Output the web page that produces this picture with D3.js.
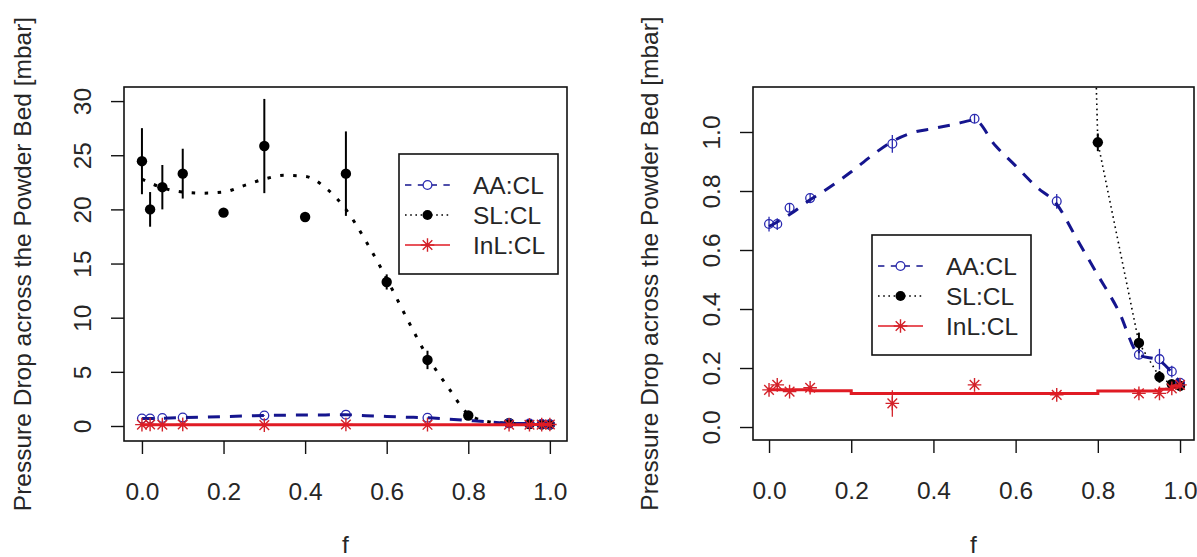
<!DOCTYPE html>
<html>
<head>
<meta charset="utf-8">
<script src="https://cdn.jsdelivr.net/npm/d3@7"></script>
<style>
  body { margin: 0; background: #fff; }
  svg { display: block; font-family: "Liberation Sans", Arial, Helvetica, sans-serif; }
</style>
</head>
<body>
<svg id="chart" width="1197" height="557"></svg>
<script>
// ---- data -------------------------------------------------------------
const seriesNames = ["AA:CL", "SL:CL", "InL:CL"];

// AA:CL measurements (mean and error half-width)
const fAA = [0, 0.02, 0.05, 0.1, 0.3, 0.5, 0.7, 0.9, 0.95, 0.98, 1.0];
const aaMean = [0.688, 0.688, 0.743, 0.776, 0.96, 1.045, 0.765, 0.245, 0.23, 0.188, 0.15];
const aaErr = [0.025, 0.02, 0.015, 0.015, 0.03, 0.015, 0.025, 0.015, 0.035, 0.02, 0.015];

// SL:CL measurements
const fSL = [0, 0.02, 0.05, 0.1, 0.2, 0.3, 0.4, 0.5, 0.6, 0.7, 0.8, 0.9, 0.95, 0.98, 1.0];
const slMean = [24.45, 20.0, 22.05, 23.3, 19.7, 25.85, 19.3, 23.3, 13.3, 6.1, 0.965, 0.285, 0.17, 0.145, 0.14];
const slErr = [3.05, 1.6, 2.05, 2.3, 0.3, 4.35, 0.3, 3.9, 0.7, 0.85, 0.03, 0.035, 0.02, 0.01, 0.01];

// InL:CL measurements
const fInL = [0, 0.02, 0.05, 0.1, 0.3, 0.5, 0.7, 0.9, 0.95, 0.98, 1.0];
const inlMean = [0.126, 0.143, 0.12, 0.133, 0.08, 0.143, 0.109, 0.114, 0.114, 0.131, 0.143];
const inlErr = [0.008, 0.008, 0.008, 0.008, 0.045, 0.008, 0.008, 0.008, 0.008, 0.008, 0.008];

// smoothed trend curves
const fitF = [0, 0.05, 0.1, 0.15, 0.2, 0.25, 0.3, 0.35, 0.4, 0.45, 0.5, 0.55, 0.6, 0.65, 0.7, 0.75, 0.8, 0.85, 0.9, 0.95, 0.98, 1.0];
const aaFit = [0.68, 0.72, 0.77, 0.815, 0.865, 0.92, 0.968, 0.998, 1.012, 1.026, 1.04, 0.955, 0.885, 0.815, 0.755, 0.635, 0.515, 0.395, 0.245, 0.225, 0.185, 0.15];
const slFit = [22.8, 22.0, 21.6, 21.5, 21.6, 22.2, 22.8, 23.15, 23.05, 22.0, 20.0, 17.0, 13.6, 9.9, 6.4, 3.6, 1.1, 0.4, 0.25, 0.17, 0.145, 0.14];
const inlFitF = [0, 0.1, 0.2, 0.8, 0.95, 0.98, 1.0];
const inlFit = [0.126, 0.123, 0.114, 0.122, 0.128, 0.138, 0.143];

// axis ticks
const xTicks = [0, 0.2, 0.4, 0.6, 0.8, 1.0];
const xTickLabels = ["0.0", "0.2", "0.4", "0.6", "0.8", "1.0"];
const yTicksLeft = [0, 5, 10, 15, 20, 25, 30];
const yTickLabelsLeft = ["0", "5", "10", "15", "20", "25", "30"];
const yTicksRight = [0, 0.2, 0.4, 0.6, 0.8, 1.0];
const yTickLabelsRight = ["0.0", "0.2", "0.4", "0.6", "0.8", "1.0"];

const xTitle = "f";
const yTitle = "Pressure Drop across the Powder Bed [mbar]";

// ---- styles -----------------------------------------------------------
const BLUE_LINE = "#15158e";
const BLUE_PT = "#2a2ab0";
const RED_LINE = "#e01b24";
const RED_PT = "#d3222a";
const INK = "#262626";
const FONT = 24.5;

const svg = d3.select("#chart");

function starPath(s) {
  const d = s * 0.7071;
  return `M${-s},0H${s}M0,${-s}V${s}M${-d},${-d}L${d},${d}M${-d},${d}L${d},${-d}`;
}

const panels = [
  {
    key: "left",
    box: { l: 124, r: 567, t: 87, b: 441 },
    xDomain: [-0.044, 1.042],
    yDomain: [-1.385, 31.3],
    yTicks: yTicksLeft, yLabels: yTickLabelsLeft,
    slMode: "fit",
    legend: { dx: 275, dy: 67 },
    yTitleOffset: 93
  },
  {
    key: "right",
    box: { l: 753, r: 1194, t: 87, b: 440 },
    xDomain: [-0.039, 1.034],
    yDomain: [-0.044, 1.1525],
    yTicks: yTicksRight, yLabels: yTickLabelsRight,
    slMode: "raw",
    legend: { dx: 119, dy: 148 },
    yTitleOffset: 95
  }
];

panels.forEach(p => {
  const { l, r, t, b } = p.box;
  const x = d3.scaleLinear().domain(p.xDomain).range([l, r]);
  const y = d3.scaleLinear().domain(p.yDomain).range([b, t]);

  const clipId = "clip-" + p.key;
  svg.append("clipPath").attr("id", clipId)
    .append("rect").attr("x", l).attr("y", t).attr("width", r - l).attr("height", b - t);

  const plot = svg.append("g").attr("clip-path", `url(#${clipId})`);

  const errBars = (g, fs, means, errs, color, width) => {
    g.selectAll(null).data(fs).enter().append("line")
      .attr("x1", d => x(d)).attr("x2", d => x(d))
      .attr("y1", (d, i) => y(means[i] - errs[i]))
      .attr("y2", (d, i) => y(means[i] + errs[i]))
      .attr("stroke", color).attr("stroke-width", width);
  };

  // SL:CL
  const gSL = plot.append("g");
  errBars(gSL, fSL, slMean, slErr, "#000", 2);
  gSL.selectAll(null).data(fSL).enter().append("circle")
    .attr("cx", d => x(d)).attr("cy", (d, i) => y(slMean[i]))
    .attr("r", 5.2).attr("fill", "#000");
  if (p.slMode === "fit") {
    gSL.append("path")
      .datum(fitF.map((f, i) => [f, slFit[i]]))
      .attr("d", d3.line().x(d => x(d[0])).y(d => y(d[1])).curve(d3.curveMonotoneX))
      .attr("fill", "none").attr("stroke", "#000").attr("stroke-width", 3)
      .attr("stroke-dasharray", "3.5,9.5");
  } else {
    gSL.append("path")
      .datum(fSL.map((f, i) => [f, slMean[i]]))
      .attr("d", d3.line().x(d => x(d[0])).y(d => y(d[1])))
      .attr("fill", "none").attr("stroke", "#000").attr("stroke-width", 1.6)
      .attr("stroke-dasharray", "1.6,3.6");
  }

  // AA:CL
  const gAA = plot.append("g");
  errBars(gAA, fAA, aaMean, aaErr, BLUE_PT, 1.3);
  gAA.selectAll(null).data(fAA).enter().append("circle")
    .attr("cx", d => x(d)).attr("cy", (d, i) => y(aaMean[i]))
    .attr("r", 4.4).attr("fill", "none").attr("stroke", BLUE_PT).attr("stroke-width", 1.3);
  gAA.append("path")
    .datum(fitF.map((f, i) => [f, aaFit[i]]))
    .attr("d", d3.line().x(d => x(d[0])).y(d => y(d[1])).curve(d3.curveMonotoneX))
    .attr("fill", "none").attr("stroke", BLUE_LINE).attr("stroke-width", 3)
    .attr("stroke-dasharray", "12,10");

  // InL:CL
  const gIn = plot.append("g");
  errBars(gIn, fInL, inlMean, inlErr, RED_PT, 1.3);
  gIn.selectAll(null).data(fInL).enter().append("path")
    .attr("transform", (d, i) => `translate(${x(d)},${y(inlMean[i])})`)
    .attr("d", starPath(6.8))
    .attr("fill", "none").attr("stroke", RED_PT).attr("stroke-width", 1.4);
  gIn.append("path")
    .datum(inlFitF.map((f, i) => [f, inlFit[i]]))
    .attr("d", d3.line().x(d => x(d[0])).y(d => y(d[1])).curve(d3.curveStepAfter))
    .attr("fill", "none").attr("stroke", RED_LINE).attr("stroke-width", 3);

  // frame
  svg.append("rect")
    .attr("x", l).attr("y", t).attr("width", r - l).attr("height", b - t)
    .attr("fill", "none").attr("stroke", "#111").attr("stroke-width", 1.6);

  // x axis
  const gx = svg.append("g").attr("transform", `translate(0,${b})`)
    .call(d3.axisBottom(x).tickValues(xTicks).tickSize(13)
      .tickFormat((d, i) => xTickLabels[i]));
  gx.select(".domain").remove();
  gx.selectAll(".tick line").attr("stroke", "#111").attr("stroke-width", 1.4);
  gx.selectAll(".tick text")
    .attr("y", 59).attr("dy", null)
    .attr("font-size", FONT).attr("font-family", null).attr("fill", INK);

  // y axis (labels parallel to the axis)
  const gy = svg.append("g").attr("transform", `translate(${l},0)`)
    .call(d3.axisLeft(y).tickValues(p.yTicks).tickSize(13)
      .tickFormat((d, i) => p.yLabels[i]));
  gy.select(".domain").remove();
  gy.selectAll(".tick line").attr("stroke", "#111").attr("stroke-width", 1.4);
  gy.selectAll(".tick text")
    .attr("x", null).attr("dy", null)
    .attr("text-anchor", "middle")
    .attr("transform", "translate(-33,0) rotate(-90)")
    .attr("font-size", FONT).attr("font-family", null).attr("fill", INK);

  // axis titles
  svg.append("text")
    .attr("x", (l + r) / 2).attr("y", 553)
    .attr("text-anchor", "middle").attr("font-size", FONT).attr("fill", INK)
    .text(xTitle);
  svg.append("text")
    .attr("transform", `translate(${l - p.yTitleOffset},${(t + b) / 2}) rotate(-90)`)
    .attr("text-anchor", "middle").attr("font-size", FONT).attr("fill", INK)
    .text(yTitle);

  // legend
  const lg = svg.append("g").attr("transform", `translate(${l + p.legend.dx},${t + p.legend.dy})`);
  lg.append("rect").attr("width", 159).attr("height", 120)
    .attr("fill", "#fff").attr("stroke", "#111").attr("stroke-width", 1.6);
  const rows = [31, 61, 91];
  const legendStyle = [
    { color: BLUE_LINE, pt: BLUE_PT, dash: "6.4,6.4", mark: "open" },
    { color: "#000", pt: "#000", dash: "1.6,3.6", mark: "dot" },
    { color: RED_LINE, pt: RED_PT, dash: null, mark: "star" }
  ];
  seriesNames.forEach((name, i) => {
    const s = legendStyle[i];
    const row = lg.append("g").attr("transform", `translate(0,${rows[i]})`);
    row.append("line").attr("x1", 6).attr("x2", 51).attr("y1", 0).attr("y2", 0)
      .attr("stroke", s.color).attr("stroke-width", 1.6)
      .attr("stroke-dasharray", s.dash);
    if (s.mark === "open") {
      row.append("circle").attr("cx", 28.5).attr("cy", 0).attr("r", 4.4)
        .attr("fill", "#fff").attr("stroke", s.pt).attr("stroke-width", 1.3);
    } else if (s.mark === "dot") {
      row.append("circle").attr("cx", 28.5).attr("cy", 0).attr("r", 5).attr("fill", s.pt);
    } else {
      row.append("path").attr("transform", "translate(28.5,0)").attr("d", starPath(6.8))
        .attr("fill", "none").attr("stroke", s.pt).attr("stroke-width", 1.4);
    }
    row.append("text").attr("x", 74).attr("y", 0).attr("dy", "0.36em")
      .attr("font-size", FONT).attr("fill", INK).text(name);
  });
});
</script>
</body>
</html>
